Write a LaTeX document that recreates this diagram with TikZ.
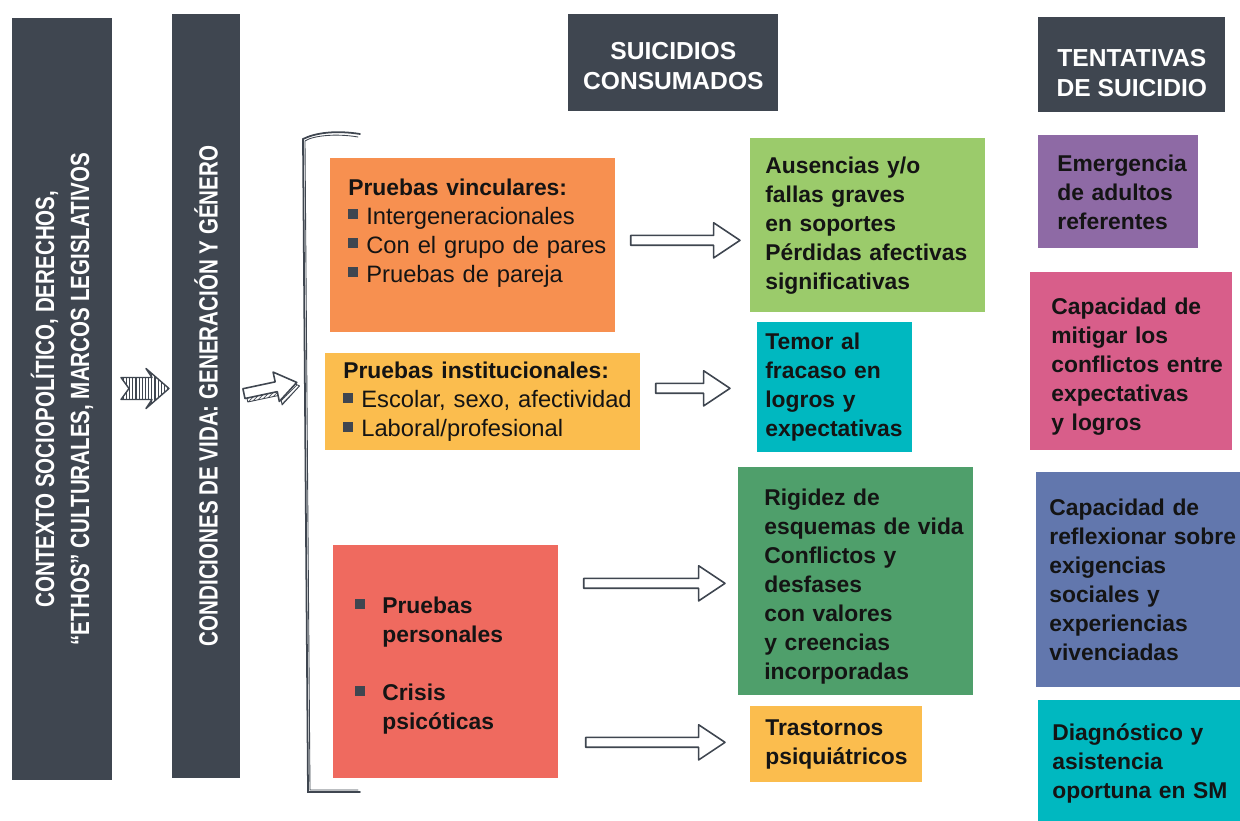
\documentclass[tikz,border=0pt]{standalone}
\usepackage{fontspec}
\setmainfont{Liberation Sans}
\newfontfamily\condfont[FakeStretch=0.78]{Liberation Sans}
\usetikzlibrary{calc,patterns.meta}

\definecolor{slate}{HTML}{3F4650}
\definecolor{ink}{HTML}{141414}
\definecolor{orange}{HTML}{F79050}
\definecolor{yellow}{HTML}{FBBD4E}
\definecolor{coral}{HTML}{EF6A5F}
\definecolor{lgreen}{HTML}{9BCB6B}
\definecolor{teal}{HTML}{00B8C0}
\definecolor{dgreen}{HTML}{4F9F6B}
\definecolor{purple}{HTML}{8E6AA5}
\definecolor{pink}{HTML}{D85E8A}
\definecolor{blue}{HTML}{6277AD}

\def\sqbox{\textcolor{slate}{\rule[1mm]{2mm}{2mm}}}
\def\sq{\sqbox\hspace{1.6mm}}
\def\hdr#1{{\fontsize{13}{16.5}\selectfont\bfseries #1}}
\def\blockarrow#1#2{\draw[hollow] let \p1=(#1), \p2=(#2) in ({\x1},{\y1+2.8pt}) -- ({\x2-15pt},{\y1+2.8pt}) -- ({\x2-15pt},{\y1+10pt}) -- ({\x2},{\y1}) -- ({\x2-15pt},{\y1-10pt}) -- ({\x2-15pt},{\y1-2.8pt}) -- ({\x1},{\y1-2.8pt}) -- cycle;}

\tikzset{
	column/.style={fill=slate, text=white, rotate=90, inner sep=0pt, align=center, font=\condfont\bfseries\fontsize{15}{20}\selectfont},
	header/.style={anchor=north west, fill=slate, text=white, inner sep=0pt, align=center, font=\bfseries\fontsize{14}{17}\selectfont},
	card/.style n args={4}{anchor=north west, fill=#1, text=ink, inner sep=0pt, text width=#2, minimum height=#3, align=left, execute at begin node={\leftskip=#4\relax}, font=\bfseries\fontsize{13}{16.5}\selectfont},
	listtext/.style={font=\fontsize{13.5}{16.5}\selectfont},
	hollow/.style={draw=slate, line width=0.9pt, line join=round},
	sketch/.style={draw=slate, line width=1pt, line cap=round},
	hatch/.style={draw=slate, line width=0.8pt, line join=round, pattern={Lines[angle=90, distance=1.8pt, line width=0.6pt]}, pattern color=slate},
}

\begin{document}
\begin{tikzpicture}[x=0.2mm, y=-0.2mm]
	%%%%% START %%%%%
	\useasboundingbox (0,0) rectangle (1240,821);
	
	\node[column, minimum width=152.4mm, minimum height=20mm] (ctx) at (62,399) {CONTEXTO SOCIOPOLÍTICO, DERECHOS,\\“ETHOS” CULTURALES, MARCOS LEGISLATIVOS};
	\node[column, minimum width=152.8mm, minimum height=13.6mm] (cond) at (206,396) {CONDICIONES DE VIDA: GENERACIÓN Y GÉNERO};
	
	\node[header, minimum width=42mm, minimum height=19.4mm] (cons) at (568,14) {\rule{0pt}{4.8mm}SUICIDIOS\\CONSUMADOS};
	\node[header, minimum width=37.4mm, minimum height=19mm] (tent) at (1038,17) {\rule{0pt}{6.6mm}TENTATIVAS\\DE SUICIDIO};
	
	% left column of causes
	\node[card={orange}{57mm}{34.8mm}{3.6mm}, listtext] (vinc) at (330,158) {\hdr{Pruebas vinculares:}\\\sq Intergeneracionales\\\sq Con el grupo de pares\\\sq Pruebas de pareja\rule[-6mm]{0pt}{0pt}};
	\node[card={yellow}{63mm}{19.4mm}{3.6mm}, listtext] (inst) at (325,353) {\hdr{Pruebas institucionales:}\\\sq Escolar, sexo, afectividad\\\sq Laboral/profesional};
	\node[card={coral}{45mm}{46.6mm}{4.4mm}] (pers) at (333,545) {\rule{0pt}{5mm}\makebox[5.4mm][l]{\sqbox}Pruebas\\\hspace*{5.4mm}personales\\[16.5pt]\makebox[5.4mm][l]{\sqbox}Crisis\\\hspace*{5.4mm}psicóticas};
	
	% suicidios consumados
	\node[card={lgreen}{47mm}{34.8mm}{3mm}] (ause) at (750,138) {Ausencias y/o\\fallas graves\\en soportes\\Pérdidas afectivas\\significativas};
	\node[card={teal}{31mm}{26mm}{1.6mm}] (temo) at (757,322) {Temor al\\fracaso en\\logros y\\expectativas};
	\node[card={dgreen}{47mm}{45.6mm}{5.2mm}] (rigi) at (738,467) {\rule{0pt}{5.3mm}Rigidez de\\esquemas de vida\\Conflictos y\\desfases\\con valores\\y creencias\\incorporadas};
	\node[card={yellow}{34.4mm}{15.2mm}{3mm}] (tras) at (750,706) {Trastornos\\psiquiátricos};
	
	% tentativas de suicidio
	\node[card={purple}{32mm}{22.6mm}{3.8mm}] (emer) at (1038,135) {Emergencia\\de adultos\\referentes};
	\node[card={pink}{40.4mm}{35.6mm}{4.2mm}] (miti) at (1030,272) {\rule{0pt}{5.3mm}Capacidad de\\mitigar los\\conflictos entre\\expectativas\\y logros};
	\node[card={blue}{40.8mm}{43mm}{2.6mm}] (refl) at (1036,472) {Capacidad de\\reflexionar sobre\\exigencias\\sociales y\\experiencias\\vivenciadas};
	\node[card={teal}{40.4mm}{24.2mm}{2.8mm}] (diag) at (1038,700) {\rule{0pt}{4.5mm}Diagnóstico y\\asistencia\\oportuna en SM};
	
	% arrows
	\coordinate (gapa) at ($(ctx.south)!0.5!(cond.north)$);
	\draw[hatch, shift={($(gapa)+(3,-9)$)}] (-24,-11) -- (7,-11) -- (1,-20) -- (24,0) -- (1,20) -- (7,11) -- (-24,11) -- (-16,0) -- cycle;
	
	\coordinate (gapb) at ($(cond.south)+(30,-8)$);
	\begin{scope}[shift={(gapb)}, rotate=12]
		\draw[hollow, line width=0.5pt, pattern={Lines[angle=45, distance=1.6pt, line width=0.4pt]}, pattern color=slate] (-25,-1) -- (8,-1) -- (8,-11) -- (29,4) -- (8,19) -- (8,9) -- (-25,9) -- cycle;
		\draw[hollow, fill=white] (-27,-5) -- (6,-5) -- (6,-15) -- (27,0) -- (6,15) -- (6,5) -- (-27,5) -- cycle;
	\end{scope}
	
	\blockarrow{$(vinc.east)+(15,-5)$}{$(ause.west)+(-10,0)$}
	\blockarrow{$(inst.east |- temo.west)+(15,1)$}{$(temo.west)+(-27,0)$}
	\blockarrow{$(pers.east |- rigi.west)+(25,2)$}{$(rigi.west)+(-13,0)$}
	\blockarrow{$(pers.east |- tras.west)+(27,-2)$}{$(tras.west)+(-25,0)$}
	
	% bracket
	\coordinate (brt) at (303,139);
	\coordinate (brb) at (308,792);
	\draw[sketch] (360,134) .. controls (335,130) and (315,133) .. (brt) -- (brb) -- (360,792);
	\draw[sketch, line width=0.5pt] (358,137) .. controls (335,133) and (312,136) .. (305,141) -- (310,790) -- (358,790);
	
	%%%%% END %%%%%
\end{tikzpicture}
\end{document}
